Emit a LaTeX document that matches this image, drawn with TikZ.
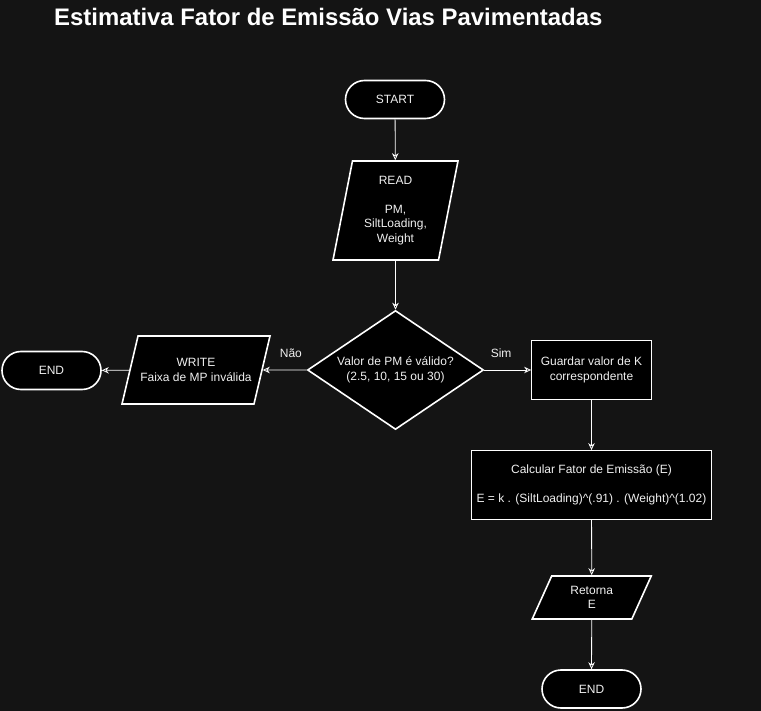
\documentclass[tikz,border=0pt]{standalone}
\usepackage{fontspec}
\setmainfont{Liberation Sans}
\usetikzlibrary{shapes.geometric, arrows.meta, positioning}
\definecolor{bgdark}{RGB}{20,20,20}
\definecolor{fgtext}{RGB}{240,240,240}

\begin{document}
\begin{tikzpicture}[
    x=1pt, y=-1pt,
    >={Stealth[length=7pt, width=6.5pt]},
    every node/.style={text=fgtext, font=\fontsize{12}{14.4}\selectfont},
    term/.style={draw=white, fill=black, line width=1.6pt, rounded corners=19pt,
                 minimum width=99pt, minimum height=38pt},
    io/.style={trapezium, draw=white, fill=black, line width=1.6pt,
               trapezium stretches body=true, align=center, inner xsep=0pt},
    proc/.style={rectangle, draw=white, fill=black, line width=0.8pt, align=center,
                 append after command={\pgfextra{
                     \draw[white, line width=0.8pt]
                         ([shift={(2pt,-2pt)}]\tikzlastnode.north west) rectangle
                         ([shift={(-2pt,2pt)}]\tikzlastnode.south east);}}},
    decision/.style={diamond, draw=white, fill=black, line width=1.6pt, aspect=1.475,
                     inner sep=0pt, align=center, minimum width=176pt, minimum height=119pt}
]
    \useasboundingbox[fill=bgdark] (0,0) rectangle (761,711);

    \node[anchor=base west, inner sep=0pt, text=white, font=\bfseries\fontsize{23.9}{28}\selectfont]
        (title) at (54,26) {Estimativa Fator de Emissão Vias Pavimentadas};

    % main column
    \node[term] (start) at (395,99.5) {START};
    \node[io, trapezium left angle=78.8, trapezium right angle=101.2, inner ysep=15pt,
          minimum width=125pt, minimum height=99pt]
        (read) at (395.5,210.5) {READ\\[14.4pt]PM,\\SiltLoading,\\Weight};
    \node[decision] (check) at (395.5,370) {Valor de PM é válido?\\(2.5, 10, 15 ou 30)};

    % left branch
    \node[io, trapezium left angle=76.7, trapezium right angle=103.3, inner ysep=22.5pt,
          minimum width=148pt, minimum height=68pt]
        (err) at (196,370) {WRITE\\Faixa de MP inválida};
    \node[term] (end1) at (51.5,370.5) {END};

    % right branch
    \node[proc, minimum width=120pt, minimum height=59pt]
        (keep) at (591.5,370) {Guardar valor de K\\correspondente};
    \node[proc, minimum width=240pt, minimum height=69pt]
        (calc) at (591.5,485) {Calcular Fator de Emissão (E)\\[14pt]E = k . (SiltLoading)\^{}(.91) . (Weight)\^{}(1.02)};
    \node[io, trapezium left angle=65.5, trapezium right angle=114.5, inner ysep=10pt,
          minimum width=119pt, minimum height=43pt]
        (ret) at (591.75,597.5) {Retorna\\E};
    \node[term] (end2) at (591.5,689) {END};

    \path[->, draw=white, line width=0.8pt]
        (start) edge (read)
        (read) edge (check)
        (check) edge node[above=9pt, pos=0.36] {Não} (err)
        (err) edge (end1)
        (check) edge node[above=9pt, pos=0.36] {Sim} (keep)
        (keep) edge (calc)
        (calc) edge (ret)
        (ret) edge (end2);
\end{tikzpicture}
\end{document}
